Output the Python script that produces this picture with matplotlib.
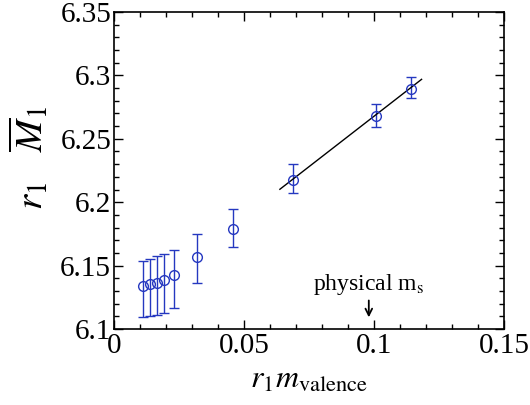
import numpy as np
import matplotlib
matplotlib.use('Agg')
import matplotlib.pyplot as plt
from matplotlib.ticker import MultipleLocator

plt.rcParams['font.family'] = ['Liberation Serif', 'DejaVu Serif']
plt.rcParams['mathtext.fontset'] = 'stix'

# data
m_val = [0.0113, 0.0138, 0.0164, 0.0194, 0.0231, 0.0320, 0.0458, 0.0687, 0.1008, 0.1142]
r1M1 = [6.1342, 6.1353, 6.1365, 6.1384, 6.1426, 6.1565, 6.1790, 6.2175, 6.2680, 6.2895]
err_up = [6.1538, 6.1550, 6.1573, 6.1594, 6.1620, 6.1750, 6.1950, 6.2300, 6.2775, 6.2985]
err_dn = [6.1097, 6.1100, 6.1113, 6.1124, 6.1163, 6.1360, 6.1645, 6.2070, 6.2590, 6.2820]
fit_x = [0.0638, 0.1183]
fit_y = [6.2102, 6.2969]
ms_phys = 0.098

m_val = np.array(m_val)
r1M1 = np.array(r1M1)
yerr = [r1M1 - np.array(err_dn), np.array(err_up) - r1M1]

fig = plt.figure(figsize=(5.3, 4.05), dpi=100)
ax = fig.add_axes([114/530, 1 - 329/405, 390/530, 317/405])

blue = '#2538c0'
ax.errorbar(m_val, r1M1, yerr=yerr, fmt='o', mfc='none', mec=blue, ecolor=blue,
            ms=7, mew=1.0, elinewidth=1.0, capsize=3.5, capthick=1.0)
ax.plot(fit_x, fit_y, color='black', lw=1.0)

# arrow for the physical strange mass
ax.annotate('', xy=(ms_phys, 6.1092), xytext=(ms_phys, 6.1225),
            arrowprops=dict(arrowstyle='->', color='black', lw=1.3,
                            shrinkA=0, shrinkB=0, mutation_scale=12))
ax.text(ms_phys, 6.1305, 'physical m$_\\mathrm{s}$', ha='center', va='baseline', fontsize=17)

ax.set_xlim(0, 0.15)
ax.set_ylim(6.1, 6.35)
ax.xaxis.set_major_locator(MultipleLocator(0.05))
ax.xaxis.set_minor_locator(MultipleLocator(0.01))
ax.yaxis.set_major_locator(MultipleLocator(0.05))
ax.yaxis.set_minor_locator(MultipleLocator(0.01))

def fmt(v, pos):
    return ('%.2f' % v).rstrip('0').rstrip('.')

ax.xaxis.set_major_formatter(plt.FuncFormatter(fmt))
ax.yaxis.set_major_formatter(plt.FuncFormatter(fmt))
ax.tick_params(which='both', direction='in', top=True, right=True, labelsize=21, width=1.0)
ax.tick_params(which='major', length=6.5)
ax.tick_params(which='minor', length=3.5)
ax.tick_params(axis='x', pad=3)
ax.tick_params(axis='y', pad=2)
for sp in ax.spines.values():
    sp.set_linewidth(1.2)

ax.set_xlabel('$r_1m_{\\mathrm{valence}}$', fontsize=23)
ax.xaxis.set_label_coords(0.5, -0.115, transform=ax.transAxes)
ax.set_ylabel('$r_1\\quad\\overline{M}_1$', fontsize=28)
ax.yaxis.set_label_coords(-0.16, 0.54, transform=ax.transAxes)

fig.savefig('out.png', dpi=100)
